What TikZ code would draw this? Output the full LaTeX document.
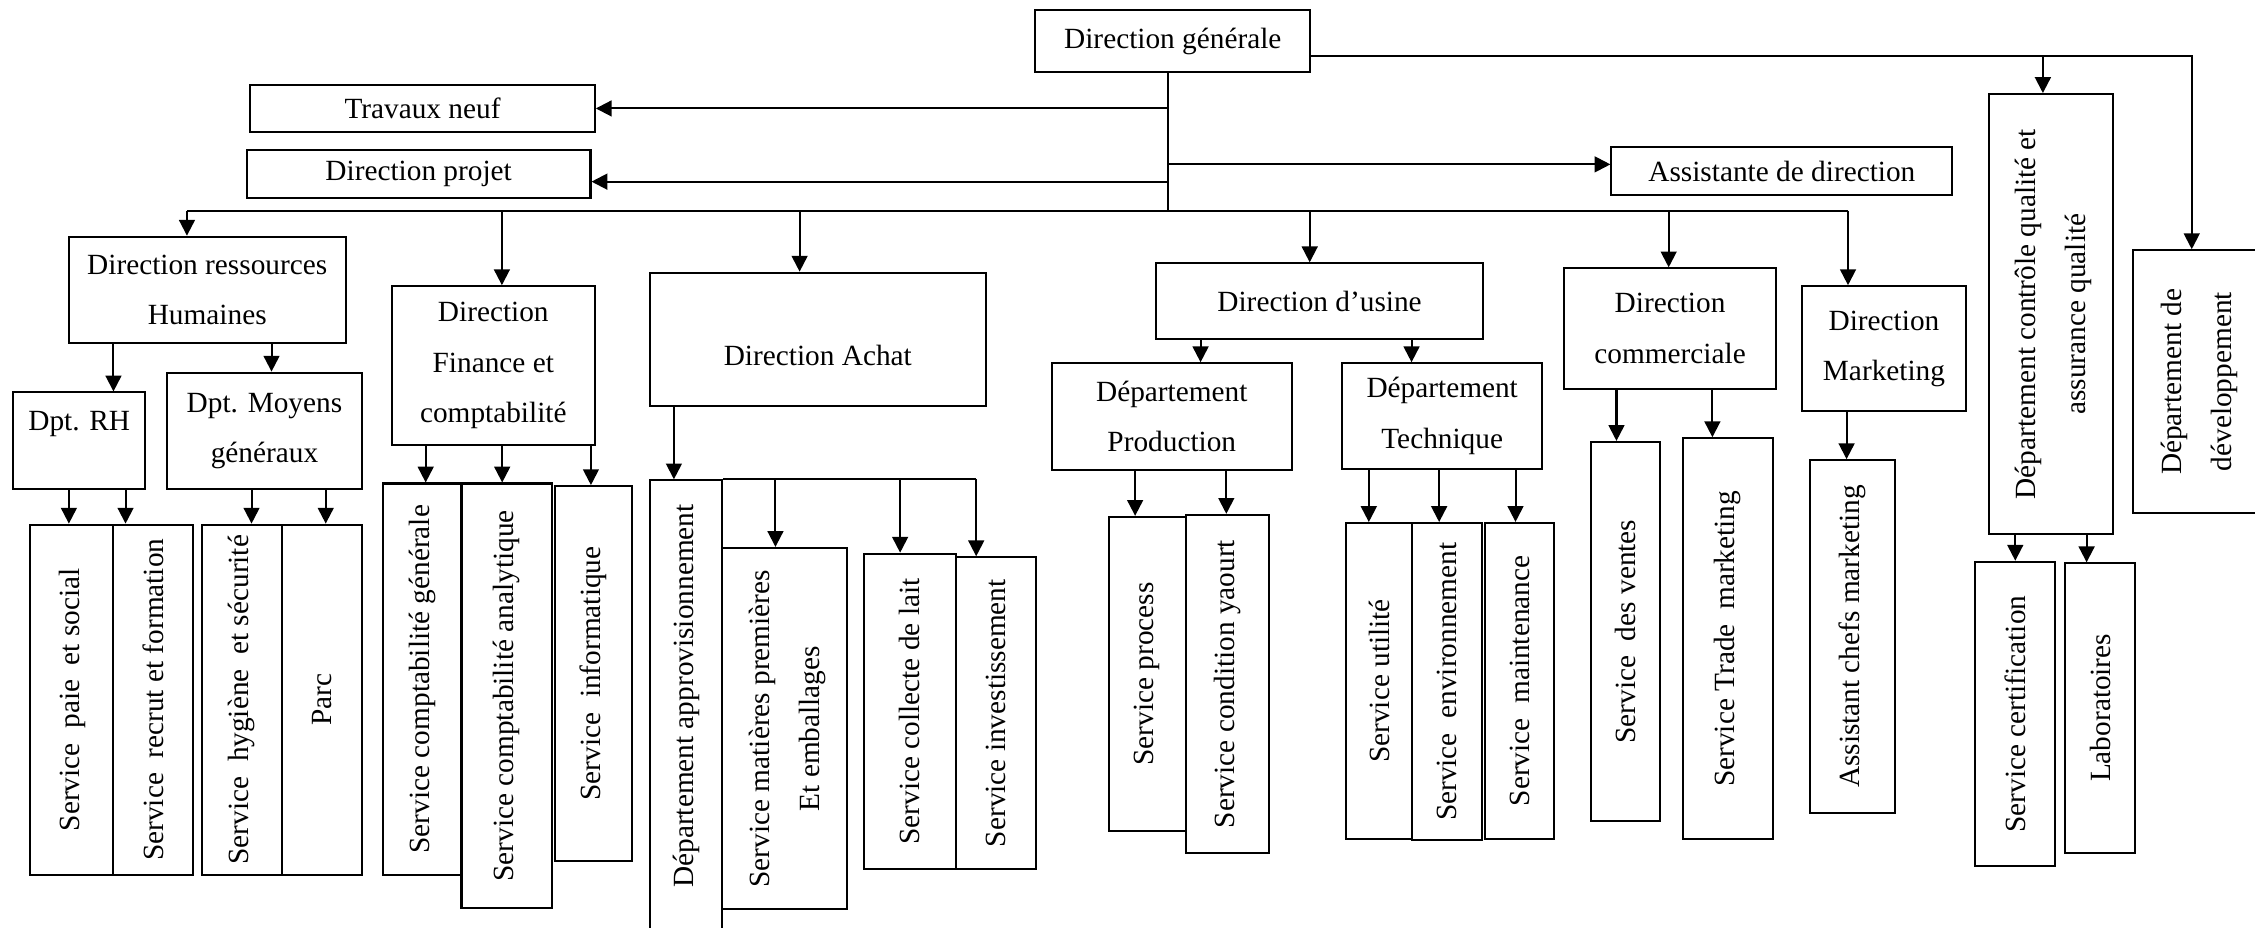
\documentclass[tikz,border=0pt]{standalone}
\usepackage{fontspec}
\setmainfont{Liberation Serif}
\usepackage{graphicx}
\usetikzlibrary{arrows.meta}

\newcommand{\orgfont}{\fontsize{11.6}{19.9}\selectfont}
\newcommand{\vtext}[1]{\rotatebox{90}{#1}}
\newcommand{\vtwo}[2]{\rotatebox{90}{\begin{tabular}{@{}c@{}}#1\\#2\end{tabular}}}

\tikzset{
	box/.style={draw, line width=0.8pt, inner sep=0pt, align=center, font=\orgfont},
	wh/.style 2 args={minimum width=#1*0.02cm, minimum height=#2*0.02cm},
	arr/.style={-{Triangle[length=0.22cm, width=0.22cm]}, line width=0.8pt},
	bus/.style={line width=0.8pt},
}

\begin{document}
\begin{tikzpicture}[x=0.02cm, y=-0.02cm]
	%\draw[help lines, step=50] (0,0) grid (1568,645);
	\useasboundingbox (0,0) rectangle (1568,645);
	\clip (0,0) rectangle (1568,645);

	% Direction et rattachements
	\node [box, wh={191}{43}] (dg) at (815.5,28.5) {Direction générale};
	\node [box, wh={239.6}{32.8}] (travaux) at (293.8,75.4) {Travaux neuf};
	\node [box, wh={239}{33.2}] (projet) at (291.1,120.9) {Direction projet};
	\node [box, wh={237}{33.8}] (assist) at (1239,118.9) {Assistante de direction};
	\node [box, wh={86.2}{306}] (dcq) at (1425.9,218.4) {\vtwo{Département contrôle qualité et}{assurance qualité}};
	\node [box, wh={89}{182.8}] (ddev) at (1527.5,265.4) {\vtwo{Département de}{développement}};

	% Directions
	\node [box, wh={192.4}{74.2}] (drh) at (144.1,201.7) {Direction ressources\\Humaines};
	\node [box, wh={141.2}{110.4}] (dfin) at (343,254.2) {Direction\\Finance et\\comptabilité};
	\node [box, wh={233.9}{92.4}, text height=21pt] (dach) at (568.65,235.8) {Direction Achat};
	\node [box, wh={227.5}{52.9}] (dus) at (917.55,209.55) {Direction d’usine};
	\node [box, wh={147.5}{83.7}] (dcom) at (1161.25,228.45) {Direction\\commerciale};
	\node [box, wh={114.6}{86.8}] (dmkt) at (1310,242.4) {Direction\\Marketing};

	% Departements
	\node [box, wh={92}{67}, text depth=16pt] (dptrh) at (55.1,306.4) {Dpt. RH};
	\node [box, wh={135.2}{81.2}] (dptmg) at (183.9,299.7) {Dpt. Moyens\\généraux};
	\node [box, wh={166.8}{74.4}] (dprod) at (814.8,289.8) {Département\\Production};
	\node [box, wh={139}{73.2}] (dtech) at (1002.8,289.2) {Département\\Technique};

	% Services
	\node [box, wh={57.7}{243.5}] (spaie) at (50.05,486.55) {\vtext{Service\ \ paie\ \ et social}};
	\node [box, wh={55.6}{243.5}] (srecrut) at (106.7,486.55) {\vtext{Service\ \ recrut et formation}};
	\node [box, wh={56}{243.5}] (shyg) at (168.2,486.55) {\vtext{Service\ \ hygiène\ \ et sécurité}};
	\node [box, wh={55.3}{243.5}] (sparc) at (223.85,486.55) {\vtext{Parc}};
	\node [box, wh={54.3}{272.1}] (scg) at (293.75,472.25) {\vtext{Service comptabilité générale}};
	\node [box, wh={62.7}{295.4}] (sca) at (352.25,483.9) {\vtext{Service comptabilité analytique}};
	\node [box, wh={53.2}{260.5}] (sinfo) at (412.6,468.25) {\vtext{Service\ \ informatique}};
	\node [box, wh={50.6}{346}] (appro) at (477,507) {\vtext{\hspace{0.92cm}Département approvisionnement}};
	\node [box, wh={86.5}{251.3}] (smat) at (545.55,506.65) {\vtwo{Service matières premières}{Et emballages}};
	\node [box, wh={64}{219.2}] (scoll) at (632.6,494.6) {\vtext{Service collecte de lait}};
	\node [box, wh={55.7}{216.7}] (sinv) at (692.45,495.85) {\vtext{Service investissement}};
	\node [box, wh={54}{218.2}] (sproc) at (797.8,468.5) {\vtext{Service process}};
	\node [box, wh={57.3}{235.3}] (scond) at (853.45,475.65) {\vtext{Service condition yaourt}};
	\node [box, wh={45.8}{219.7}] (sutil) at (958.9,473.55) {\vtext{Service utilité}};
	\node [box, wh={48.5}{220.7}] (senv) at (1006.05,474.05) {\vtext{Service\ \ environnement}};
	\node [box, wh={48}{219.8}] (smaint) at (1056.7,473.5) {\vtext{Service\ \ maintenance}};
	\node [box, wh={48.2}{263.8}] (svente) at (1130.2,439.2) {\vtext{Service\ \ des ventes}};
	\node [box, wh={62.4}{279}] (strade) at (1201.3,444.2) {\vtext{Service Trade\ \ marketing}};
	\node [box, wh={59}{245.2}] (sasst) at (1288.2,442.6) {\vtext{Assistant chefs marketing}};
	\node [box, wh={55.6}{211.8}] (scert) at (1401.2,496.5) {\vtext{Service certification}};
	\node [box, wh={48.8}{201.1}] (slabo) at (1460.2,492.25) {\vtext{Laboratoires}};

	% Liaisons direction generale
	\coordinate (busL) at (130,146.5);
	\coordinate (busR) at (1285,146.5);
	\coordinate (trunk) at (812,146.5);
	\coordinate (qcorner) at (1524,38.7);
	\coordinate (qbranch) at (1420.5,38.7);
	\draw [bus] (busL) -- (busR);						% ligne des directions
	\draw [bus] (dg.south -| trunk) -- (trunk);
	\draw [arr] (trunk |- travaux.east) -- (travaux.east);
	\draw [arr] (trunk |- 0,126.3) -- (projet.east |- 0,126.3);
	\draw [arr] (trunk |- 0,114.3) -- (assist.west |- 0,114.3);
	\draw [arr] (dg.east |- qcorner) -- (qcorner) -- (ddev.north -| qcorner);
	\draw [arr] (qbranch) -- (dcq.north -| qbranch);

	\draw [arr] (busL) -- (drh.north -| busL);
	\draw [arr] (busL -| 349,0) -- (dfin.north -| 349,0);
	\draw [arr] (busL -| 556,0) -- (dach.north -| 556,0);
	\draw [arr] (busL -| 910.7,0) -- (dus.north -| 910.7,0);
	\draw [arr] (busL -| 1160.3,0) -- (dcom.north -| 1160.3,0);
	\draw [arr] (busR) -- (dmkt.north -| busR);

	% Liaisons vers departements et services
	\draw [arr] (drh.south -| 78.9,0) -- (dptrh.north -| 78.9,0);
	\draw [arr] (drh.south -| 188.8,0) -- (dptmg.north -| 188.8,0);
	\draw [arr] (dptrh.south -| 47.9,0) -- (spaie.north -| 47.9,0);
	\draw [arr] (dptrh.south -| 87.3,0) -- (srecrut.north -| 87.3,0);
	\draw [arr] (dptmg.south -| 174.9,0) -- (shyg.north -| 174.9,0);
	\draw [arr] (dptmg.south -| 226.5,0) -- (sparc.north -| 226.5,0);

	\draw [arr] (dfin.south -| 296,0) -- (scg.north -| 296,0);
	\draw [arr] (dfin.south -| 349.2,0) -- (sca.north -| 349.2,0);
	\draw [arr] (dfin.south -| 410.9,0) -- (sinfo.north -| 410.9,0);

	\draw [arr] (dach.south -| 468.6,0) -- (appro.north -| 468.6,0);
	\draw [bus] (appro.north east) -- (appro.north -| 678.8,0);		% ligne achat
	\draw [arr] (appro.north -| 539.2,0) -- (smat.north -| 539.2,0);
	\draw [arr] (appro.north -| 625.9,0) -- (scoll.north -| 625.9,0);
	\draw [arr] (appro.north -| 678.8,0) -- (sinv.north -| 678.8,0);

	\draw [arr] (dus.south -| 834.8,0) -- (dprod.north -| 834.8,0);
	\draw [arr] (dus.south -| 981.5,0) -- (dtech.north -| 981.5,0);
	\draw [arr] (dprod.south -| 789.3,0) -- (sproc.north -| 789.3,0);
	\draw [arr] (dprod.south -| 852.7,0) -- (scond.north -| 852.7,0);
	\draw [arr] (dtech.south -| 951.8,0) -- (sutil.north -| 951.8,0);
	\draw [arr] (dtech.south -| 1000.7,0) -- (senv.north -| 1000.7,0);
	\draw [arr] (dtech.south -| 1053.8,0) -- (smaint.north -| 1053.8,0);

	\draw [arr] (dcom.south -| 1124,0) -- (svente.north -| 1124,0);
	\draw [arr] (dcom.south -| 1190.7,0) -- (strade.north -| 1190.7,0);
	\draw [arr] (dmkt.south -| 1284,0) -- (sasst.north -| 1284,0);
	\draw [arr] (dcq.south -| 1401.3,0) -- (scert.north -| 1401.3,0);
	\draw [arr] (dcq.south -| 1450.9,0) -- (slabo.north -| 1450.9,0);

\end{tikzpicture}
\end{document}
